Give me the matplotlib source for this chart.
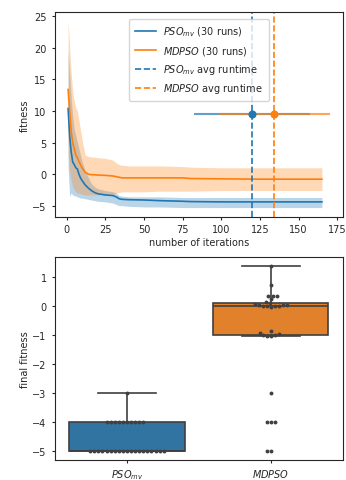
import numpy as np
import pandas as pd
import matplotlib
matplotlib.use("Agg")
import matplotlib.pyplot as plt
from matplotlib.colors import to_rgba
import seaborn as sns

# ── convergence curves (mean and +/- band) ─────────────────────────────────
iters = [1, 2, 3, 4, 5, 6, 7, 8, 9, 10, 12, 14, 16, 18, 20, 25, 30, 32, 34,
         36, 40, 50, 60, 75, 80, 100, 125, 150, 165]

pso_mean = [10.4, 6.0, 3.5, 1.9, 1.5, 1.0, 0.8, 0.0, -0.6, -1.0, -1.7, -2.2,
            -2.6, -2.9, -3.1, -3.3, -3.4, -3.6, -3.9, -4.0, -4.05, -4.1,
            -4.2, -4.3, -4.35, -4.4, -4.4, -4.4, -4.4]
pso_hi = [19.5, 16.0, 12.0, 9.0, 7.0, 6.0, 5.0, 4.0, 3.0, 2.0, 0.5, -0.5,
          -1.5, -2.0, -2.3, -2.6, -2.8, -3.0, -3.4, -3.5, -3.6, -3.6, -3.6,
          -3.7, -3.7, -3.7, -3.7, -3.7, -3.7]
pso_lo = [1.0, -3.5, -3.0, -3.3, -3.4, -3.5, -3.6, -3.7, -3.8, -3.8, -3.9,
          -4.0, -4.1, -4.2, -4.3, -4.4, -4.6, -4.8, -5.0, -5.0, -5.1, -5.2,
          -5.2, -5.3, -5.3, -5.3, -5.3, -5.3, -5.3]

md_mean = [13.4, 10.0, 6.7, 5.0, 4.0, 3.0, 2.6, 2.0, 1.5, 1.0, 0.3, 0.0,
           -0.1, -0.1, -0.15, -0.2, -0.3, -0.4, -0.5, -0.6, -0.6, -0.6, -0.6,
           -0.6, -0.7, -0.75, -0.8, -0.8, -0.8]
md_hi = [24.2, 20.0, 16.0, 13.0, 11.5, 10.5, 10.0, 8.5, 7.0, 5.5, 3.0, 2.8,
         2.7, 2.7, 2.6, 2.5, 2.2, 1.8, 1.5, 1.4, 1.3, 1.3, 1.3, 1.2, 1.1, 1.0,
         1.0, 1.0, 1.0]
md_lo = [3.0, 0.5, -1.0, -2.0, -2.5, -2.8, -3.0, -3.0, -3.1, -3.2, -3.3, -3.3,
         -3.3, -3.3, -3.3, -3.3, -3.2, -3.0, -2.9, -2.8, -2.8, -2.8, -2.7,
         -2.7, -2.7, -2.6, -2.6, -2.6, -2.6]

# average runtime (iterations) and its spread
runtime_mean = [119.7, 134.3]
runtime_sd = [37.4, 35.8]
runtime_y = 9.5

# ── final fitness of the 30 runs ───────────────────────────────────────────
pso_final = [-5] * 19 + [-4] * 10 + [-3]
md_final = [-5, -5, -4, -4, -4, -3,
            -1.03, -1.02, -1.01, -1.0, -0.97, -0.92, -0.88,
            -0.02, -0.01, 0.0, 0.0, 0.01, 0.02, 0.03, 0.05, 0.08, 0.11, 0.12,
            0.25, 0.33, 0.36, 0.36, 0.71, 1.37]
algos = [r"$PSO_{mv}$", r"$MDPSO$"]

plt.rcParams["font.size"] = 7
plt.rcParams["text.color"] = ".15"
plt.rcParams["axes.labelcolor"] = ".15"
plt.rcParams["xtick.color"] = ".15"
plt.rcParams["ytick.color"] = ".15"
plt.rcParams["axes.edgecolor"] = ".15"
plt.rcParams["axes.linewidth"] = 0.8
plt.rcParams["xtick.major.size"] = 2.5
plt.rcParams["ytick.major.size"] = 2.5
plt.rcParams["xtick.major.pad"] = 2.5

fig = plt.figure(figsize=(3.46, 4.81), dpi=100)

# ── top: fitness vs iterations ─────────────────────────────────────────────
ax = fig.add_axes([0.159, 0.547, 0.832, 0.426])
lw = 1.2
ax.fill_between(iters, pso_lo, pso_hi, color="C0", alpha=0.3, lw=0)
ax.plot(iters, pso_mean, color="C0", lw=lw, label=r"$PSO_{mv}$ (30 runs)")
ax.fill_between(iters, md_lo, md_hi, color="C1", alpha=0.3, lw=0)
ax.plot(iters, md_mean, color="C1", lw=lw, label=r"$MDPSO$ (30 runs)")

ax.axvline(runtime_mean[0], color="C0", ls="--", lw=lw,
           label=r"$PSO_{mv}$ avg runtime")
ax.axvline(runtime_mean[1], color="C1", ls="--", lw=lw,
           label=r"$MDPSO$ avg runtime")
for i, c in enumerate(["C0", "C1"]):
    ax.errorbar(runtime_mean[i], runtime_y, xerr=runtime_sd[i], fmt="o",
                color=c, ecolor=to_rgba(c, 0.7), elinewidth=1.5, ms=4.8,
                zorder=4)

ax.set_xticks([0, 25, 50, 75, 100, 125, 150, 175])
ax.set_yticks([-5, 0, 5, 10, 15, 20, 25])
ax.set_xlabel("number of iterations", labelpad=2)
ax.set_ylabel("fitness", labelpad=2)
ax.legend(loc="upper left", bbox_to_anchor=(0.24, 0.99), fontsize=7,
          handlelength=2.2, borderpad=0.6, labelspacing=0.55,
          handletextpad=0.7)

# ── bottom: final fitness distribution ─────────────────────────────────────
df = pd.DataFrame({
    "algo": [algos[0]] * len(pso_final) + [algos[1]] * len(md_final),
    "final fitness": pso_final + md_final,
})

ax2 = fig.add_axes([0.159, 0.0415, 0.832, 0.422])
sns.boxplot(data=df, x="algo", y="final fitness", hue="algo",
            palette=["C0", "C1"], showfliers=False, width=0.8,
            linewidth=1.2, legend=False, ax=ax2)
sns.swarmplot(data=df, x="algo", y="final fitness", color=".25", size=2.8,
              ax=ax2)
ax2.set_xlabel("")
ax2.set_ylabel("final fitness", labelpad=2)
ax2.set_yticks([-5, -4, -3, -2, -1, 0, 1])
ax2.set_xlim(-0.5, 1.5)

fig.savefig("out.png", dpi=100)
